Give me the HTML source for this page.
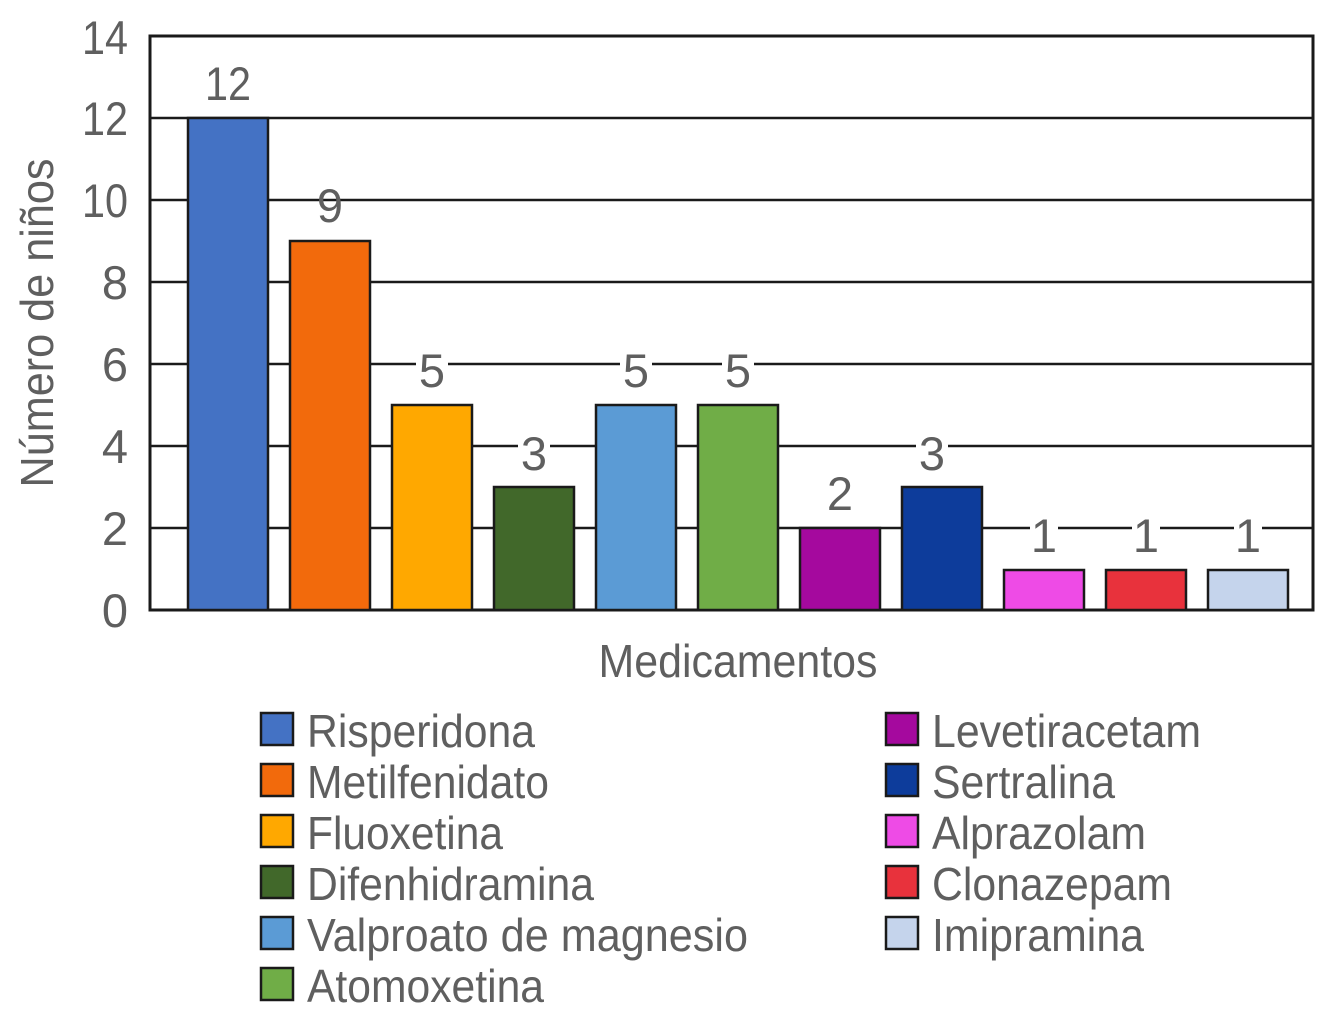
<!DOCTYPE html>
<html><head><meta charset="utf-8"><style>
html,body{margin:0;padding:0;background:#fff;}
svg{display:block}
text{font-family:"Liberation Sans Narrow","Liberation Sans",sans-serif;fill:#5f5f5f;}
</style></head><body>
<svg width="1327" height="1024" viewBox="0 0 1327 1024" xmlns="http://www.w3.org/2000/svg">
<rect x="150" y="36" width="1163" height="574" fill="#fff" stroke="#1a1a1a" stroke-width="3"/>
<g stroke="#1a1a1a" stroke-width="2.5">
<line x1="150" y1="528" x2="1313" y2="528"/>
<line x1="150" y1="446" x2="1313" y2="446"/>
<line x1="150" y1="364" x2="1313" y2="364"/>
<line x1="150" y1="282" x2="1313" y2="282"/>
<line x1="150" y1="200" x2="1313" y2="200"/>
<line x1="150" y1="118" x2="1313" y2="118"/>
</g>
<g font-size="47" text-anchor="end">
<text x="128" y="627">0</text>
<text x="128" y="545">2</text>
<text x="128" y="463">4</text>
<text x="128" y="381">6</text>
<text x="128" y="299">8</text>
<text x="128" y="217" textLength="46" lengthAdjust="spacingAndGlyphs">10</text>
<text x="128" y="135" textLength="46" lengthAdjust="spacingAndGlyphs">12</text>
<text x="128" y="54" textLength="46" lengthAdjust="spacingAndGlyphs">14</text>
</g>
<text transform="translate(53,323) rotate(-90)" font-size="46" text-anchor="middle" textLength="329" lengthAdjust="spacingAndGlyphs">Número de niños</text>
<text x="738" y="677" font-size="46" text-anchor="middle" textLength="279" lengthAdjust="spacingAndGlyphs">Medicamentos</text>
<g stroke="#1a1a1a" stroke-width="2.5">
<rect x="188" y="118" width="80" height="492" fill="#4472c4"/>
<rect x="290" y="241" width="80" height="369" fill="#f26a0c"/>
<rect x="392" y="405" width="80" height="205" fill="#ffa800"/>
<rect x="494" y="487" width="80" height="123" fill="#41682a"/>
<rect x="596" y="405" width="80" height="205" fill="#5b9bd5"/>
<rect x="698" y="405" width="80" height="205" fill="#70ad47"/>
<rect x="800" y="528" width="80" height="82" fill="#a5099e"/>
<rect x="902" y="487" width="80" height="123" fill="#0d3c9b"/>
<rect x="1004" y="570" width="80" height="40" fill="#ee4be6"/>
<rect x="1106" y="570" width="80" height="40" fill="#e8323c"/>
<rect x="1208" y="570" width="80" height="40" fill="#c5d4ec"/>
</g>
<g fill="#fff">
<rect x="518" y="432" width="32" height="40"/>
<rect x="916" y="432" width="32" height="40"/>
<rect x="1030" y="514" width="28" height="40"/>
<rect x="1132" y="514" width="28" height="40"/>
<rect x="1234" y="514" width="28" height="40"/>
<rect x="416" y="350" width="32" height="40"/>
<rect x="620" y="350" width="32" height="40"/>
<rect x="722" y="350" width="32" height="40"/>
</g>
<g font-size="47" text-anchor="middle">
<text x="228" y="100" textLength="46" lengthAdjust="spacingAndGlyphs">12</text>
<text x="330" y="222">9</text>
<text x="432" y="387">5</text>
<text x="534" y="470">3</text>
<text x="636" y="387">5</text>
<text x="738" y="387">5</text>
<text x="840" y="510">2</text>
<text x="932" y="470">3</text>
<text x="1044" y="552">1</text>
<text x="1146" y="552">1</text>
<text x="1248" y="552">1</text>
</g>
<g stroke="#1a1a1a" stroke-width="2.5">
<rect x="261" y="713" width="32" height="32" fill="#4472c4"/>
<rect x="261" y="764" width="32" height="32" fill="#f26a0c"/>
<rect x="261" y="815" width="32" height="32" fill="#ffa800"/>
<rect x="261" y="866" width="32" height="32" fill="#41682a"/>
<rect x="261" y="917" width="32" height="32" fill="#5b9bd5"/>
<rect x="261" y="968" width="32" height="32" fill="#70ad47"/>
<rect x="886" y="713" width="32" height="32" fill="#a5099e"/>
<rect x="886" y="764" width="32" height="32" fill="#0d3c9b"/>
<rect x="886" y="815" width="32" height="32" fill="#ee4be6"/>
<rect x="886" y="866" width="32" height="32" fill="#e8323c"/>
<rect x="886" y="917" width="32" height="32" fill="#c5d4ec"/>
</g>
<g font-size="46" lengthAdjust="spacingAndGlyphs">
<text x="307" y="747" textLength="228" lengthAdjust="spacingAndGlyphs">Risperidona</text>
<text x="307" y="798" textLength="242" lengthAdjust="spacingAndGlyphs">Metilfenidato</text>
<text x="307" y="849" textLength="196" lengthAdjust="spacingAndGlyphs">Fluoxetina</text>
<text x="307" y="900" textLength="287" lengthAdjust="spacingAndGlyphs">Difenhidramina</text>
<text x="307" y="951" textLength="441" lengthAdjust="spacingAndGlyphs">Valproato de magnesio</text>
<text x="307" y="1002" textLength="237" lengthAdjust="spacingAndGlyphs">Atomoxetina</text>
<text x="932" y="747" textLength="269" lengthAdjust="spacingAndGlyphs">Levetiracetam</text>
<text x="932" y="798" textLength="183" lengthAdjust="spacingAndGlyphs">Sertralina</text>
<text x="932" y="849" textLength="214" lengthAdjust="spacingAndGlyphs">Alprazolam</text>
<text x="932" y="900" textLength="240" lengthAdjust="spacingAndGlyphs">Clonazepam</text>
<text x="932" y="951" textLength="212" lengthAdjust="spacingAndGlyphs">Imipramina</text>
</g>
</svg>
</body></html>
